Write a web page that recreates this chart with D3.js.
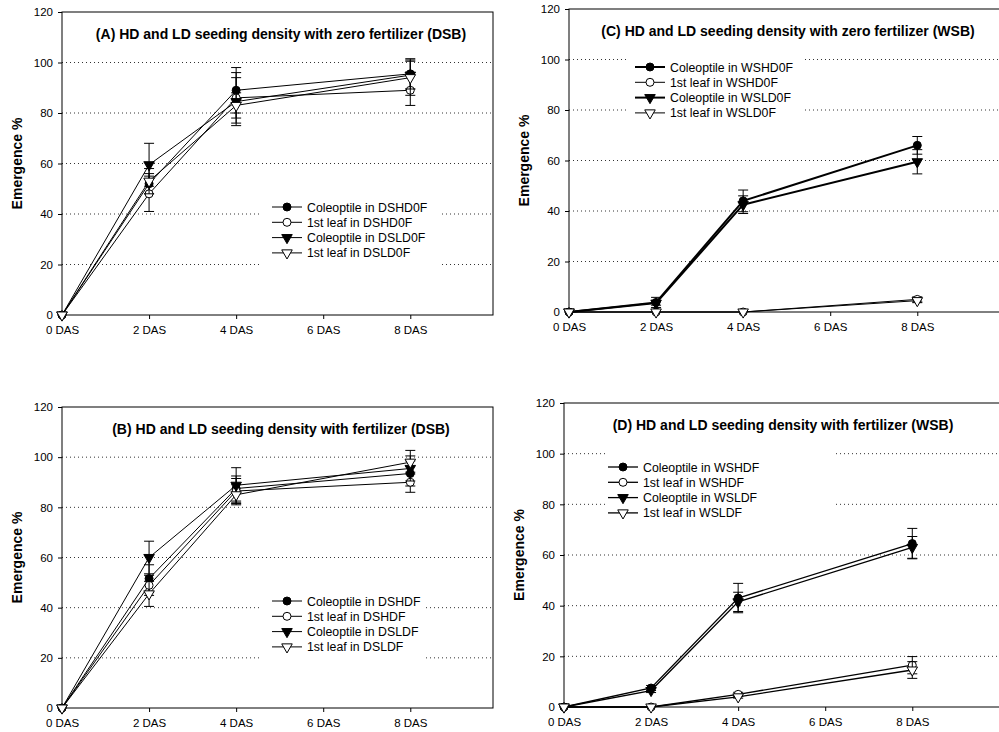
<!doctype html>
<html>
<head>
<meta charset="utf-8">
<script src="https://cdnjs.cloudflare.com/ajax/libs/d3/7.8.5/d3.min.js"></script>
<style>
  body { margin: 0; background: #fff; }
  svg { font-family: Arial, "Liberation Sans", sans-serif; }
</style>
</head>
<body>
<svg width="999" height="732"></svg>
<script>
// x positions of samples and axis ticks
var sampleDays = [0, 2, 4, 8];
var tickDays = [0, 2, 4, 6, 8];
var tickLabels = ["0 DAS", "2 DAS", "4 DAS", "6 DAS", "8 DAS"];
var yTicks = [0, 20, 40, 60, 80, 100, 120];
var gridValues = [20, 40, 60, 80, 100];

// (A) DSB, zero fertilizer
var aColHD = [0, 52, 89, 95.5],   aColHDErr = [0, 4, 9, 6];
var aLeafHD = [0, 48, 86, 89],    aLeafHDErr = [0, 7, 10, 6];
var aColLD = [0, 59.5, 84.5, 95], aColLDErr = [0, 8.5, 9.5, 5.5];
var aLeafLD = [0, 53, 83, 94],    aLeafLDErr = [0, 5, 5, 7];

// (B) DSB, fertilizer
var bColHD = [0, 51.6, 87.5, 93.5], bColHDErr = [0, 5.5, 5, 5];
var bLeafHD = [0, 48.9, 86.5, 90],  bLeafHDErr = [0, 4, 5, 4];
var bColLD = [0, 60, 88.8, 95.5],   bColLDErr = [0, 6.5, 7, 5];
var bLeafLD = [0, 45.5, 85, 98],    bLeafLDErr = [0, 5, 4, 4.7];

// (C) WSB, zero fertilizer
var cColHD = [0, 3.8, 44, 66],    cColHDErr = [0, 2, 4.3, 3.5];
var cLeafHD = [0, 0, 0, 5],       cLeafHDErr = [0, 0, 0, 1];
var cColLD = [0, 3.5, 42.5, 59.5], cColLDErr = [0, 0.8, 3.5, 4.8];
var cLeafLD = [0, 0, 0, 4.5],     cLeafLDErr = [0, 0, 0, 0.8];

// (D) WSB, fertilizer
var dColHD = [0, 7.5, 43, 64.5],  dColHDErr = [0, 1, 5.8, 6];
var dLeafHD = [0, 0, 5, 16.5],    dLeafHDErr = [0, 0, 0.8, 3.4];
var dColLD = [0, 6.5, 41.5, 63],  dColLDErr = [0, 0.8, 3.8, 4.3];
var dLeafLD = [0, 0, 4, 14.6],    dLeafLDErr = [0, 0, 0.5, 3.3];

var titles = [
  "(A) HD and LD seeding density with zero fertilizer (DSB)",
  "(B) HD and LD seeding density with fertilizer (DSB)",
  "(C) HD and LD seeding density with zero fertilizer (WSB)",
  "(D) HD and LD seeding density with fertilizer (WSB)"
];
var legendA = ["Coleoptile in DSHD0F", "1st leaf in DSHD0F", "Coleoptile in DSLD0F", "1st leaf in DSLD0F"];
var legendB = ["Coleoptile in DSHDF", "1st leaf in DSHDF", "Coleoptile in DSLDF", "1st leaf in DSLDF"];
var legendC = ["Coleoptile in WSHD0F", "1st leaf in WSHD0F", "Coleoptile in WSLD0F", "1st leaf in WSLD0F"];
var legendD = ["Coleoptile in WSHDF", "1st leaf in WSHDF", "Coleoptile in WSLDF", "1st leaf in WSLDF"];

// marker style per series slot: filled circle, open circle, filled triangle, open triangle
var markerTypes = ["circle", "circle", "tri", "tri"];
var markerFills = ["#000", "#fff", "#000", "#fff"];

var svg = d3.select("svg");

var panels = [
  { left: 62, top: 12, width: 431, frameW: 431, height: 303, title: titles[0], labels: legendA,
    series: [[aColHD, aColHDErr], [aLeafHD, aLeafHDErr], [aColLD, aColLDErr], [aLeafLD, aLeafLDErr]],
    lineW: [1, 1, 1, 1],
    legend: { x: 272, y: 207, box: [262, 196, 178, 72] } },
  { left: 62, top: 407, width: 431, frameW: 431, height: 301, title: titles[1], labels: legendB,
    series: [[bColHD, bColHDErr], [bLeafHD, bLeafHDErr], [bColLD, bColLDErr], [bLeafLD, bLeafLDErr]],
    lineW: [1, 1, 1, 1],
    legend: { x: 272, y: 601, box: [260, 590, 165, 72] } },
  { left: 569, top: 9, width: 431, frameW: 445, height: 303, title: titles[2], labels: legendC,
    series: [[cColHD, cColHDErr], [cLeafHD, cLeafHDErr], [cColLD, cColLDErr], [cLeafLD, cLeafLDErr]],
    lineW: [2, 1, 2, 1],
    legend: { x: 635, y: 67, box: [627, 55, 175, 67] } },
  { left: 564, top: 403, width: 431, frameW: 450, height: 304, title: titles[3], labels: legendD,
    series: [[dColHD, dColHDErr], [dLeafHD, dLeafHDErr], [dColLD, dColLDErr], [dLeafLD, dLeafLDErr]],
    lineW: [1.3, 1.3, 1.3, 1.3],
    legend: { x: 608, y: 467, box: [606, 444, 227, 78] } }
];

var triPath = d3.symbol().type(d3.symbolTriangle).size(48)();

function drawMarker(sel, i) {
  if (markerTypes[i] == "circle") {
    sel.append("circle").attr("r", 4)
      .attr("fill", markerFills[i]).attr("stroke", "#000").attr("stroke-width", 1);
  } else {
    sel.append("path").attr("d", triPath).attr("transform", "rotate(180)")
      .attr("fill", markerFills[i]).attr("stroke", "#000").attr("stroke-width", 1);
  }
}

panels.forEach(function(p) {
  var x = d3.scaleLinear().domain([0, 9.9]).range([0, p.width]);
  var y = d3.scaleLinear().domain([0, 120]).range([p.height, 0]);

  var g = svg.append("g").attr("transform", "translate(" + p.left + "," + p.top + ")");

  // dotted gridlines
  g.selectAll(".grid").data(gridValues).enter().append("line")
    .attr("x1", 0).attr("x2", p.frameW)
    .attr("y1", function(d) { return y(d); }).attr("y2", function(d) { return y(d); })
    .attr("stroke", "#333").attr("stroke-width", 1)
    .attr("stroke-dasharray", "1,3");

  // frame
  g.append("rect").attr("x", 0).attr("y", 0).attr("width", p.frameW).attr("height", p.height)
    .attr("fill", "none").attr("stroke", "#000").attr("stroke-width", 1);

  var xAxis = g.append("g").attr("transform", "translate(0," + p.height + ")")
    .call(d3.axisBottom(x).tickValues(tickDays).tickSizeOuter(0).tickSize(4).tickPadding(7)
      .tickFormat(function(d, i) { return tickLabels[i]; }));
  var yAxis = g.append("g")
    .call(d3.axisLeft(y).tickValues(yTicks).tickSizeOuter(0).tickSize(4).tickPadding(5));
  [xAxis, yAxis].forEach(function(a) {
    a.select(".domain").remove();
    a.selectAll("text").attr("font-size", "11.5px").attr("fill", "#000")
      .attr("font-family", "Arial, 'Liberation Sans', sans-serif");
  });

  // title and axis label
  g.append("text").attr("x", 219).attr("y", 27).attr("text-anchor", "middle")
    .attr("font-size", "14px").attr("font-weight", "bold").text(p.title);
  g.append("text").attr("transform", "translate(-40," + (p.height / 2) + ") rotate(-90)")
    .attr("text-anchor", "middle").attr("font-size", "14px").attr("font-weight", "bold")
    .text("Emergence %");

  // legend background hides grid
  var lb = p.legend.box;
  svg.append("rect").attr("x", lb[0]).attr("y", lb[1]).attr("width", lb[2]).attr("height", lb[3])
    .attr("fill", "#fff");

  // series
  p.series.forEach(function(s, i) {
    var vals = s[0], errs = s[1];
    var pts = sampleDays.map(function(d, k) { return { x: d, v: vals[k], e: errs[k] }; });
    g.append("path").datum(pts)
      .attr("d", d3.line().x(function(d) { return x(d.x); }).y(function(d) { return y(d.v); }))
      .attr("fill", "none").attr("stroke", "#000").attr("stroke-width", p.lineW[i]);

    var eb = g.selectAll(".eb" + i).data(pts.filter(function(d) { return d.e > 0; })).enter()
      .append("g");
    eb.append("line")
      .attr("x1", function(d) { return x(d.x); }).attr("x2", function(d) { return x(d.x); })
      .attr("y1", function(d) { return y(d.v - d.e); }).attr("y2", function(d) { return y(d.v + d.e); })
      .attr("stroke", "#000");
    [-1, 1].forEach(function(sg) {
      eb.append("line")
        .attr("x1", function(d) { return x(d.x) - 5; }).attr("x2", function(d) { return x(d.x) + 5; })
        .attr("y1", function(d) { return y(d.v + sg * d.e); }).attr("y2", function(d) { return y(d.v + sg * d.e); })
        .attr("stroke", "#000");
    });

    g.selectAll(".mk" + i).data(pts).enter().append("g")
      .attr("transform", function(d) { return "translate(" + x(d.x) + "," + y(d.v) + ")"; })
      .each(function() { drawMarker(d3.select(this), i); });
  });

  // legend
  var lg = svg.append("g").attr("transform", "translate(" + p.legend.x + "," + p.legend.y + ")");
  p.labels.forEach(function(lab, i) {
    var row = lg.append("g").attr("transform", "translate(0," + (i * 15.3) + ")");
    row.append("line").attr("x1", 0).attr("x2", 30).attr("y1", 0).attr("y2", 0)
      .attr("stroke", "#000").attr("stroke-width", p.lineW[i]);
    drawMarker(row.append("g").attr("transform", "translate(15,0)"), i);
    row.append("text").attr("x", 35).attr("y", 4.5).attr("font-size", "12.3px").text(lab);
  });
});
</script>
</body>
</html>
